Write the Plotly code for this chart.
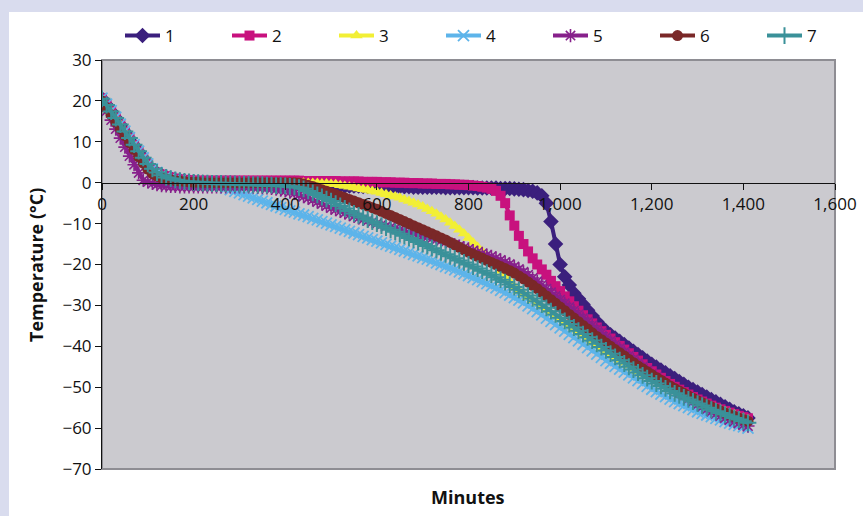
import plotly.graph_objects as go

# Time base (minutes), logged every 10 minutes
minutes = list(range(0, 1420, 10))

s1 = [20.5, 19.0, 17.4, 15.8, 14.1, 12.4, 10.8, 9.1, 7.5, 5.9,
      4.3, 3.1, 2.3, 1.8, 1.4, 1.1, 0.8, 0.6, 0.4, 0.3,
      0.2, 0.1, 0.1, 0.0, 0.0, 0.0, -0.1, -0.1, -0.1, -0.2,
      -0.2, -0.2, -0.2, -0.3, -0.3, -0.3, -0.3, -0.4, -0.4, -0.4,
      -0.4, -0.5, -0.5, -0.5, -0.5, -0.6, -0.6, -0.6, -0.6, -0.7,
      -0.7, -0.7, -0.7, -0.8, -0.8, -0.8, -0.8, -0.9, -0.9, -0.9,
      -0.9, -0.9, -1.0, -1.0, -1.0, -1.0, -1.0, -1.0, -1.1, -1.1,
      -1.1, -1.1, -1.1, -1.1, -1.1, -1.2, -1.2, -1.2, -1.2, -1.2,
      -1.2, -1.2, -1.3, -1.3, -1.3, -1.3, -1.3, -1.4, -1.4, -1.4,
      -1.5, -1.6, -1.7, -1.9, -2.1, -2.5, -3.2, -5.0, -9.5, -15.0,
      -20.0, -23.0, -25.0, -27.0, -28.4, -29.8, -31.2, -32.6, -34.0, -35.2,
      -36.3, -37.2, -38.0, -38.8, -39.6, -40.4, -41.2, -42.0, -42.8, -43.6,
      -44.4, -45.1, -45.8, -46.5, -47.2, -47.9, -48.6, -49.3, -50.0, -50.6,
      -51.2, -51.8, -52.4, -53.0, -53.6, -54.2, -54.8, -55.4, -56.0, -56.5,
      -57.0, -57.5]

s2 = [20.6, 19.1, 17.5, 15.9, 14.2, 12.5, 10.9, 9.2, 7.6, 6.0,
      4.5, 3.3, 2.5, 2.0, 1.6, 1.3, 1.0, 0.8, 0.7, 0.6,
      0.5, 0.5, 0.5, 0.5, 0.5, 0.5, 0.5, 0.5, 0.5, 0.5,
      0.5, 0.5, 0.5, 0.5, 0.5, 0.5, 0.5, 0.5, 0.5, 0.5,
      0.5, 0.5, 0.5, 0.5, 0.4, 0.4, 0.4, 0.4, 0.4, 0.4,
      0.4, 0.4, 0.3, 0.3, 0.3, 0.3, 0.3, 0.2, 0.2, 0.2,
      0.2, 0.1, 0.1, 0.1, 0.0, 0.0, 0.0, -0.1, -0.1, -0.1,
      -0.2, -0.2, -0.2, -0.3, -0.3, -0.3, -0.4, -0.4, -0.5, -0.5,
      -0.6, -0.7, -0.8, -1.0, -1.2, -1.5, -2.0, -3.2, -5.0, -8.0,
      -10.5, -13.0, -15.0, -16.8, -18.5, -20.0, -21.2, -22.5, -24.0, -25.3,
      -26.5, -27.8, -29.0, -30.2, -31.3, -32.4, -33.4, -34.4, -35.4, -36.3,
      -37.2, -38.1, -39.0, -39.9, -40.8, -41.7, -42.6, -43.5, -44.4, -45.3,
      -46.1, -46.9, -47.7, -48.5, -49.2, -49.9, -50.6, -51.2, -51.8, -52.4,
      -53.0, -53.5, -54.0, -54.5, -55.0, -55.4, -55.8, -56.2, -56.6, -57.0,
      -57.3, -57.6]

s3 = [20.4, 18.9, 17.3, 15.7, 14.0, 12.3, 10.7, 9.0, 7.4, 5.8,
      4.2, 3.0, 2.2, 1.7, 1.3, 1.0, 0.7, 0.5, 0.4, 0.3,
      0.2, 0.2, 0.1, 0.1, 0.1, 0.1, 0.0, 0.0, 0.0, 0.0,
      0.0, 0.0, 0.0, 0.0, 0.0, 0.0, 0.0, 0.0, 0.0, 0.0,
      0.0, 0.0, 0.0, 0.0, 0.0, -0.1, -0.1, -0.1, -0.2, -0.2,
      -0.3, -0.4, -0.6, -0.8, -1.0, -1.2, -1.4, -1.6, -1.8, -2.0,
      -2.2, -2.5, -2.8, -3.1, -3.4, -3.7, -4.1, -4.5, -4.9, -5.3,
      -5.8, -6.4, -7.0, -7.6, -8.3, -9.0, -9.8, -10.6, -11.5, -12.4,
      -13.5, -14.6, -15.7, -16.8, -17.9, -19.0, -20.2, -21.5, -22.8, -24.2,
      -25.5, -26.4, -27.2, -28.0, -28.8, -29.6, -30.4, -31.2, -32.0, -32.8,
      -33.6, -34.4, -35.2, -36.0, -36.8, -37.6, -38.4, -39.1, -39.8, -40.5,
      -41.2, -41.9, -42.6, -43.3, -44.0, -44.7, -45.4, -46.1, -46.7, -47.3,
      -47.9, -48.5, -49.1, -49.7, -50.3, -50.8, -51.3, -51.8, -52.3, -52.8,
      -53.3, -53.8, -54.3, -54.7, -55.1, -55.5, -55.9, -56.3, -56.7, -57.1,
      -57.5, -57.9]

s4 = [20.7, 19.2, 17.6, 16.0, 14.3, 12.6, 11.0, 9.3, 7.7, 6.1,
      4.6, 3.4, 2.5, 1.9, 1.5, 1.1, 0.8, 0.6, 0.4, 0.2,
      0.0, -0.1, -0.2, -0.3, -0.4, -0.6, -0.9, -1.3, -1.7, -2.1,
      -2.5, -2.9, -3.3, -3.7, -4.1, -4.5, -4.9, -5.3, -5.7, -6.1,
      -6.5, -6.9, -7.2, -7.6, -7.9, -8.3, -8.7, -9.1, -9.5, -9.9,
      -10.3, -10.7, -11.1, -11.5, -11.9, -12.3, -12.7, -13.1, -13.5, -13.9,
      -14.3, -14.7, -15.1, -15.5, -15.9, -16.3, -16.7, -17.1, -17.5, -17.9,
      -18.3, -18.7, -19.1, -19.6, -20.0, -20.5, -20.9, -21.3, -21.8, -22.3,
      -22.7, -23.2, -23.7, -24.2, -24.7, -25.2, -25.7, -26.3, -26.9, -27.5,
      -28.1, -28.7, -29.4, -30.1, -30.8, -31.5, -32.3, -33.1, -33.9, -34.7,
      -35.5, -36.3, -37.1, -37.9, -38.7, -39.5, -40.3, -41.1, -41.9, -42.7,
      -43.5, -44.2, -44.9, -45.6, -46.3, -47.0, -47.7, -48.4, -49.1, -49.8,
      -50.5, -51.1, -51.7, -52.3, -52.9, -53.5, -54.0, -54.5, -55.0, -55.5,
      -56.0, -56.4, -56.8, -57.2, -57.6, -58.0, -58.4, -58.8, -59.1, -59.4,
      -59.7, -60.0]

s5 = [19.6, 17.5, 15.3, 13.1, 10.9, 8.7, 6.5, 4.4, 2.4, 0.6,
      0.2, -0.2, -0.5, -0.7, -0.8, -0.9, -0.9, -1.0, -1.0, -1.0,
      -1.0, -1.0, -1.0, -1.0, -1.0, -1.0, -1.0, -1.0, -1.0, -1.0,
      -1.0, -1.0, -1.0, -1.1, -1.1, -1.2, -1.3, -1.4, -1.6, -1.8,
      -2.0, -2.3, -2.6, -3.0, -3.4, -3.8, -4.2, -4.7, -5.2, -5.7,
      -6.2, -6.6, -7.0, -7.4, -7.8, -8.2, -8.6, -9.0, -9.3, -9.6,
      -10.0, -10.3, -10.6, -10.9, -11.2, -11.5, -11.8, -12.1, -12.4, -12.7,
      -13.0, -13.3, -13.6, -13.9, -14.2, -14.5, -14.8, -15.2, -15.5, -15.9,
      -16.2, -16.6, -17.0, -17.3, -17.7, -18.0, -18.4, -18.9, -19.4, -19.9,
      -20.5, -21.1, -21.8, -22.5, -23.3, -24.1, -25.0, -25.9, -26.8, -27.7,
      -28.6, -29.5, -30.4, -31.3, -32.2, -33.1, -34.0, -34.9, -35.8, -36.7,
      -37.8, -38.7, -39.6, -40.5, -41.4, -42.3, -43.2, -44.1, -45.0, -45.9,
      -46.8, -47.6, -48.4, -49.2, -50.0, -50.7, -51.4, -52.1, -52.8, -53.5,
      -54.2, -54.8, -55.4, -56.0, -56.5, -57.0, -57.5, -58.0, -58.4, -58.8,
      -59.2, -59.5]

s6 = [20.0, 18.3, 16.6, 14.9, 13.2, 11.5, 9.8, 8.1, 6.4, 4.8,
      3.3, 2.2, 1.6, 1.2, 0.9, 0.7, 0.5, 0.4, 0.3, 0.2,
      0.1, 0.1, 0.0, 0.0, 0.0, 0.0, 0.0, 0.0, 0.0, 0.0,
      0.0, 0.0, 0.0, 0.0, 0.0, 0.0, 0.0, 0.0, 0.0, 0.0,
      0.0, 0.0, 0.0, -0.1, -0.3, -0.6, -0.9, -1.3, -1.7, -2.1,
      -2.5, -2.9, -3.3, -3.7, -4.1, -4.5, -4.9, -5.3, -5.7, -6.1,
      -6.5, -7.0, -7.5, -8.0, -8.5, -9.0, -9.5, -10.0, -10.5, -11.0,
      -11.5, -12.0, -12.5, -13.0, -13.5, -14.0, -14.6, -15.2, -15.8, -16.4,
      -17.0, -17.5, -18.0, -18.5, -19.0, -19.5, -20.0, -20.5, -21.0, -21.5,
      -22.1, -22.8, -23.5, -24.3, -25.1, -25.9, -26.8, -27.7, -28.6, -29.5,
      -30.4, -31.3, -32.2, -33.1, -34.0, -34.9, -35.8, -36.7, -37.6, -38.4,
      -39.2, -40.0, -40.8, -41.6, -42.4, -43.2, -44.0, -44.8, -45.5, -46.2,
      -46.9, -47.6, -48.3, -49.0, -49.7, -50.3, -50.9, -51.5, -52.1, -52.7,
      -53.3, -53.8, -54.3, -54.8, -55.3, -55.8, -56.3, -56.7, -57.1, -57.5,
      -57.9, -58.3]

s7 = [20.5, 19.0, 17.4, 15.8, 14.2, 12.5, 10.9, 9.3, 7.7, 6.1,
      4.6, 3.4, 2.5, 1.8, 1.3, 1.0, 0.7, 0.5, 0.3, 0.2,
      0.1, 0.0, -0.1, -0.1, -0.2, -0.2, -0.2, -0.3, -0.3, -0.3,
      -0.4, -0.4, -0.4, -0.5, -0.5, -0.5, -0.6, -0.6, -0.7, -0.7,
      -0.8, -0.9, -1.0, -1.2, -1.5, -2.0, -2.5, -3.0, -3.5, -4.0,
      -4.5, -5.1, -5.7, -6.3, -6.9, -7.5, -8.0, -8.5, -9.0, -9.5,
      -10.0, -10.5, -11.0, -11.5, -12.0, -12.5, -13.0, -13.5, -14.0, -14.5,
      -15.0, -15.5, -16.0, -16.5, -17.0, -17.5, -18.0, -18.5, -19.0, -19.5,
      -20.0, -20.5, -21.0, -21.5, -22.0, -22.5, -23.1, -23.7, -24.3, -24.9,
      -25.5, -26.2, -26.9, -27.6, -28.3, -29.0, -29.8, -30.6, -31.4, -32.2,
      -33.0, -33.8, -34.6, -35.4, -36.2, -37.0, -37.8, -38.6, -39.4, -40.2,
      -41.0, -41.8, -42.6, -43.4, -44.2, -45.0, -45.7, -46.4, -47.1, -47.8,
      -48.5, -49.1, -49.7, -50.3, -50.9, -51.5, -52.0, -52.5, -53.0, -53.5,
      -54.0, -54.5, -55.0, -55.5, -55.9, -56.3, -56.7, -57.1, -57.5, -57.9,
      -58.3, -58.7]

series_names = ["1", "2", "3", "4", "5", "6", "7"]
series_values = [s1, s2, s3, s4, s5, s6, s7]

x_tick_vals = [0, 200, 400, 600, 800, 1000, 1200, 1400, 1600]
x_tick_text = ["0", "200", "400", "600", "800", "1,000", "1,200", "1,400", "1,600"]
y_tick_vals = [30, 20, 10, 0, -10, -20, -30, -40, -50, -60, -70]
y_tick_text = ["30", "20", "10", "0", "\u221210", "\u221220", "\u221230", "\u221240",
               "\u221250", "\u221260", "\u221270"]

styles = [
    dict(color="#3b1f7d", symbol="diamond", size=12, lw=0),
    dict(color="#c8117e", symbol="square", size=10, lw=0),
    dict(color="#f2ef35", symbol="triangle-up", size=11, lw=0),
    dict(color="#5db4ea", symbol="x-thin", size=11, lw=1.8),
    dict(color="#87208b", symbol="asterisk", size=11, lw=1.6),
    dict(color="#7a2828", symbol="circle", size=11, lw=0),
    dict(color="#3a9199", symbol="cross-thin", size=12, lw=2),
]

FONT = "Open Sans, Noto Sans, sans-serif"

fig = go.Figure()
for name, vals, st in zip(series_names, series_values, styles):
    fig.add_trace(go.Scatter(
        x=minutes, y=vals, name=name, mode="lines+markers",
        line=dict(color=st["color"], width=4),
        marker=dict(symbol=st["symbol"], size=st["size"], color=st["color"],
                    line=dict(color=st["color"], width=st["lw"])),
    ))

L, R, T, B = 102, 28, 60, 47
W, H = 863, 516
pw, ph = W - L - R, H - T - B

def px_x(p):
    return (p - L) / pw

def px_y(p):
    return (H - B - p) / ph

LAV = "#d9dcee"

fig.update_layout(
    width=W, height=H,
    margin=dict(l=L, r=R, t=T, b=B, pad=0, autoexpand=False),
    paper_bgcolor="white",
    plot_bgcolor="#cbcacf",
    font=dict(family=FONT, size=17, color="#111111"),
    showlegend=True,
    legend=dict(orientation="h", x=px_x(869), y=px_y(18), xanchor="right", yanchor="top",
                bgcolor="rgba(0,0,0,0)", entrywidth=57, entrywidthmode="pixels",
                itemwidth=35, font=dict(size=17), itemsizing="trace", tracegroupgap=0),
    xaxis=dict(range=[0, 1600], tickvals=x_tick_vals, ticktext=x_tick_text,
               showgrid=False, zeroline=False, showline=True, linecolor="#111111",
               linewidth=1, ticks="outside", ticklen=6, tickcolor="#111111",
               anchor="free", position=0.7, tickfont=dict(size=17)),
    yaxis=dict(range=[-70, 30], tickvals=y_tick_vals, ticktext=y_tick_text,
               showgrid=False, zeroline=False, showline=True, linecolor="#111111",
               linewidth=1, ticks="outside", ticklen=6, tickcolor="#111111",
               tickfont=dict(size=17)),
    shapes=[
        dict(type="rect", xref="paper", yref="paper", x0=px_x(-5), x1=px_x(9),
             y0=px_y(H + 5), y1=px_y(-5), fillcolor=LAV, line=dict(width=0),
             layer="below"),
        dict(type="rect", xref="paper", yref="paper", x0=px_x(-5), x1=px_x(W + 5),
             y0=px_y(12), y1=px_y(-5), fillcolor=LAV, line=dict(width=0),
             layer="below"),
        dict(type="rect", xref="paper", yref="paper", x0=0, x1=1, y0=0, y1=1,
             fillcolor="rgba(0,0,0,0)", line=dict(color="#8e8d93", width=2),
             layer="below"),
    ],
    annotations=[
        dict(text="<b>Temperature (°C)</b>", xref="paper", yref="paper",
             x=px_x(36), y=px_y(265), textangle=-90, showarrow=False,
             font=dict(size=18, family=FONT), xanchor="center", yanchor="middle"),
        dict(text="<b>Minutes</b>", xref="paper", yref="paper",
             x=px_x(468), y=px_y(497), showarrow=False,
             font=dict(size=18, family=FONT), xanchor="center", yanchor="middle"),
    ],
)

fig.write_html("out.html", config={"displayModeBar": False},
               post_script="document.body.style.margin='0';document.body.style.overflow='hidden';")
